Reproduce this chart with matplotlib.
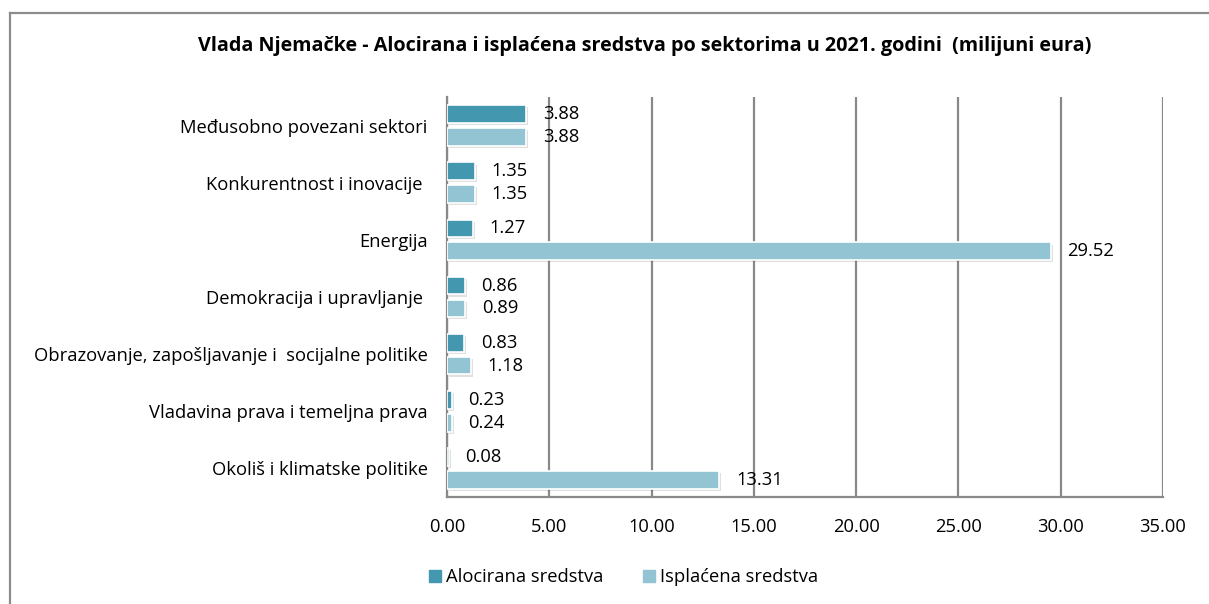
import numpy as np
import matplotlib
matplotlib.use("Agg")
import matplotlib.pyplot as plt
from matplotlib import patheffects as pe
from matplotlib.lines import Line2D

plt.rcParams['font.family'] = ['Open Sans', 'DejaVu Sans']

categories = [
    "Međusobno povezani sektori",
    "Konkurentnost i inovacije ",
    "Energija",
    "Demokracija i upravljanje ",
    "Obrazovanje, zapošljavanje i  socijalne politike",
    "Vladavina prava i temeljna prava",
    "Okoliš i klimatske politike",
]
alocirana = [3.88, 1.35, 1.27, 0.86, 0.83, 0.23, 0.08]
isplacena = [3.88, 1.35, 29.52, 0.89, 1.18, 0.24, 13.31]
series_names = ["Alocirana sredstva", "Isplaćena sredstva"]
xticks = [0, 5, 10, 15, 20, 25, 30, 35]
title = "Vlada Njemačke - Alocirana i isplaćena sredstva po sektorima u 2021. godini  (milijuni eura)"

c_dark = "#4397AF"
c_light = "#93C4D4"
grid_c = "#898989"

fig = plt.figure(figsize=(12.09, 6.04), dpi=100)
ax = fig.add_axes([447 / 1209, 1 - 497 / 604, 716 / 1209, 400 / 604])

y = np.arange(len(categories))
h = 0.31
off = 0.2
shadow = [pe.SimplePatchShadow(offset=(1.5, -1.5), shadow_rgbFace="#000000", alpha=0.12), pe.Normal()]

b1 = ax.barh(y - off, alocirana, height=h, color=c_dark, edgecolor="white",
             linewidth=1.2, zorder=3)
b2 = ax.barh(y + off, isplacena, height=h, color=c_light, edgecolor="white",
             linewidth=1.2, zorder=3)
for bars in (b1, b2):
    for p in bars:
        p.set_path_effects(shadow)

fs = 13.2
for bars, vals in ((b1, alocirana), (b2, isplacena)):
    for yi, v in zip(bars, vals):
        yc = yi.get_y() + yi.get_height() / 2
        ax.annotate(f"{v:.2f}", (v, yc), xytext=(12, 0), textcoords="offset points",
                    va="center", ha="left", fontsize=fs, color="black", zorder=4)

ax.set_xlim(0, 35)
ax.set_ylim(len(categories) - 0.5, -0.5)
ax.set_xticks(xticks)
ax.set_xticklabels([f"{t:.2f}" for t in xticks], fontsize=fs)
ax.set_yticks(y)
ax.set_yticklabels(categories, fontsize=fs)
ax.tick_params(axis="both", length=0)
ax.tick_params(axis="x", pad=15)
ax.tick_params(axis="y", pad=14)
ax.xaxis.grid(True, color=grid_c, linewidth=1.6, zorder=0)
ax.set_axisbelow(True)
for s in ("top", "right"):
    ax.spines[s].set_visible(False)
for s in ("left", "bottom"):
    ax.spines[s].set_color(grid_c)
    ax.spines[s].set_linewidth(1.6)

fig.text(645 / 1209, 1 - 46 / 604, title, ha="center", va="center",
         fontsize=14.2, fontweight="bold")

handles = [Line2D([], [], marker="s", linestyle="none", markersize=8, color=c_dark),
           Line2D([], [], marker="s", linestyle="none", markersize=8, color=c_light)]
fig.legend(handles, series_names, loc="center", bbox_to_anchor=(622 / 1209, 1 - 577 / 604),
           ncol=2, frameon=False, fontsize=fs, handletextpad=0.1, columnspacing=2.0,
           handlelength=1.0)

# chart frame
fig.add_artist(Line2D([10 / 1209, 10 / 1209], [0, 1 - 13 / 604], transform=fig.transFigure,
                      color="#8C8C8C", linewidth=1.6))
fig.add_artist(Line2D([10 / 1209, 1], [1 - 13 / 604, 1 - 13 / 604], transform=fig.transFigure,
                      color="#8C8C8C", linewidth=1.6))

fig.savefig("out.png", dpi=100)
